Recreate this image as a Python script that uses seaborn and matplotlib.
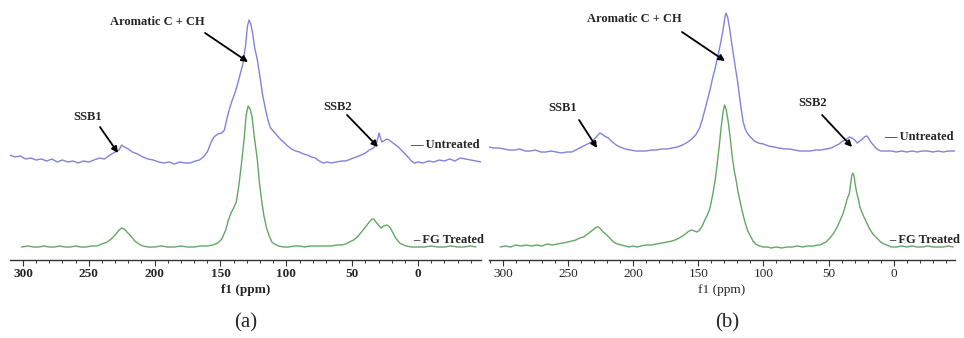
import numpy as np
import pandas as pd
import matplotlib
matplotlib.use("Agg")
import matplotlib.pyplot as plt
import seaborn as sns
from matplotlib.ticker import MultipleLocator

# ---------------- data (chemical shift in ppm, intensity in a.u.) ----------------
ua_ppm = [310, 306, 302, 298, 294, 290, 286, 282, 278, 274, 270, 266, 262, 258, 254, 250, 246, 242, 238, 234,
          230, 227, 225, 223, 220, 217, 213, 209, 205, 201, 197, 193, 189, 185, 181, 177, 173, 169, 166, 163,
          160, 157, 155, 152, 149, 147, 145, 143, 141, 139, 137, 135, 133, 131, 129.5, 128.3, 127, 125.5, 124, 122,
          120, 118, 116, 114, 112, 110, 108, 106, 104, 102, 99, 96, 93, 90, 87, 84, 81, 78, 75, 72,
          69, 66, 62, 58, 55, 51, 47, 43, 40, 37, 34, 32, 30.5, 29.6, 28.5, 27.5, 26, 24, 22, 20,
          18, 15, 12, 9, 7, 5, 3, 0, -4, -8, -12, -16, -20, -24, -28, -32, -36, -40, -44, -48]
ua_int = [105, 103, 104, 101, 102, 100, 101, 99, 101, 98, 100, 98, 99, 97, 99, 98, 100, 102, 101, 105,
          108, 110, 115, 113, 111, 108, 106, 103, 101, 100, 98, 97, 98, 96, 98, 97, 97, 99, 100, 103,
          108, 118, 123, 126, 127, 130, 142, 152, 160, 167, 176, 186, 196, 214, 234, 240, 236, 226, 212, 200,
          183, 165, 152, 140, 132, 129, 126, 123, 120, 118, 114, 111, 109, 108, 106, 105, 103, 102, 99, 97,
          98, 97, 98, 99, 99, 101, 103, 105, 107, 110, 112, 115, 122, 127, 122, 118, 119, 121, 120, 118,
          116, 113, 109, 105, 102, 99, 97, 98, 97, 99, 98, 100, 99, 101, 99, 102, 101, 100, 99, 98]

ga_ppm = [301, 296, 292, 288, 284, 280, 276, 272, 268, 264, 260, 256, 252, 248, 244, 240, 236, 233, 230, 227,
          225, 223, 221, 218, 215, 212, 209, 205, 200, 195, 190, 185, 180, 175, 170, 165, 160, 156, 152, 149,
          146, 144, 142, 140, 138, 136, 134, 132, 130.5, 129, 127.5, 126, 124.5, 123, 122, 120.5, 118.5, 117, 115, 113,
          111, 109, 106, 102, 98, 94, 90, 86, 82, 78, 74, 70, 66, 62, 58, 55, 52, 49, 46, 43,
          40, 37, 35, 33.5, 32, 30, 28, 26, 24, 22.5, 21, 19, 17, 14, 11, 9, 5, 0, -5, -10,
          -15, -20, -25, -30, -35, -40, -44]
ga_int = [13, 14, 13, 13, 14, 13, 13, 14, 13, 13, 14, 13, 13, 14, 14, 16, 18, 21, 25, 30,
          32, 31, 28, 24, 19, 16, 14, 13, 13, 14, 13, 13, 14, 13, 13, 14, 14, 15, 17, 21,
          30, 40, 47, 52, 58, 75, 97, 122, 145, 154, 151, 143, 125, 110, 100, 78, 57, 44, 32, 24,
          18, 16, 14, 13, 13, 14, 14, 13, 14, 14, 14, 14, 14, 15, 15, 16, 18, 20, 23, 28,
          33, 38, 41, 41, 38, 35, 32, 34, 35, 34, 32, 27, 22, 17, 15, 14, 13, 13, 13, 14,
          13, 13, 14, 13, 13, 14, 13]

ub_ppm = [311, 307, 303, 299, 295, 291, 287, 283, 279, 275, 271, 267, 263, 259, 255, 251, 247, 244, 241, 238,
          235, 232, 229, 227, 225.5, 224, 222, 219, 216, 213, 210, 206, 202, 198, 194, 190, 186, 182, 178, 174,
          170, 166, 162, 158, 155, 152, 149, 147, 145, 143, 141, 139, 137, 135, 133, 131, 129.5, 128.7, 127.5, 126,
          124.5, 123, 121.5, 120, 118.5, 117, 115.5, 114, 112, 110, 107, 104, 100, 96, 92, 88, 84, 80, 76, 72,
          68, 64, 60, 56, 52, 48, 45, 42, 39, 36, 34, 32, 30, 28, 26, 24, 22, 20.5, 19, 17,
          15, 13, 10, 6, 2, -2, -6, -10, -14, -18, -22, -26, -30, -34, -38, -42, -47]
ub_int = [113, 112, 112, 111, 110, 110, 111, 109, 109, 110, 108, 108, 109, 108, 107, 108, 108, 110, 112, 114,
          116, 118, 122, 125, 127, 126, 124, 122, 118, 115, 113, 111, 110, 109, 109, 109, 110, 110, 111, 111,
          112, 113, 115, 118, 121, 125, 132, 140, 150, 160, 170, 182, 192, 204, 216, 230, 243, 247, 243, 232,
          218, 205, 192, 180, 165, 150, 138, 131, 126, 123, 119, 117, 116, 114, 113, 112, 111, 111, 110, 109,
          109, 109, 110, 110, 111, 112, 114, 116, 119, 121, 123, 122, 120, 117, 119, 121, 123.5, 124, 121, 117,
          114, 111, 109, 109, 109, 108, 109, 108, 109, 108, 109, 109, 108, 109, 108, 109, 109]

gb_ppm = [302, 298, 294, 290, 286, 282, 278, 274, 270, 266, 262, 258, 254, 250, 247, 244, 241, 238, 235, 232,
          230, 228, 226.5, 225, 223, 221, 218, 215, 212, 209, 206, 203, 200, 197, 194, 190, 186, 182, 178, 174,
          170, 166, 162, 159, 157, 155, 153, 151, 149, 147, 145, 143, 141, 139, 137, 135.5, 134, 132.5, 131, 129.8,
          128.5, 127, 125.5, 124, 122.5, 121, 119.5, 118, 116.5, 115, 113.5, 112, 110, 108, 106, 103, 100, 97, 94, 90,
          86, 82, 78, 74, 70, 66, 62, 58, 56.6, 52, 49, 46, 43, 41, 39, 37.4, 36, 34, 32.3, 31.4,
          30.5, 29.5, 28.4, 27, 26, 24.5, 22.5, 20.7, 18.5, 16, 13, 10, 7.5, 5.4, 2, -2, -6, -10, -14, -18,
          -22, -26, -30, -34, -38, -42, -45.5]
gb_int = [13, 14, 13, 15, 14, 15, 14, 15, 14, 16, 15, 16, 17, 18, 19, 20, 22, 23, 26, 29,
          31, 33, 33, 31, 28, 26, 22, 18, 16, 15, 14, 13, 14, 13, 14, 15, 15, 16, 17, 18,
          19, 21, 24, 27, 29, 30, 29, 28, 30, 34, 40, 45, 52, 65, 80, 96, 113, 132, 148, 155,
          150, 138, 122, 104, 90, 80, 68, 59, 50, 42, 35, 29, 24, 19, 16, 14, 13, 13, 12, 13,
          12, 13, 13, 14, 13, 14, 14, 15, 15, 18, 22, 27, 34, 40, 46, 53, 60, 67, 84, 87,
          84, 75, 67, 60, 53, 48, 42, 37, 31, 26, 22, 18, 16, 15, 13, 13, 14, 13, 14, 13,
          13, 14, 13, 13, 13, 14, 13]

trace_labels = ["— Untreated", "– FG Treated"]
peak_labels = ["Aromatic C + CH", "SSB1", "SSB2"]
panel_labels = ["(a)", "(b)"]
major_ticks = [300, 250, 200, 150, 100, 50, 0]
axis_label = "f1 (ppm)"

# ---------------- styling ----------------
sns.set_theme(style="ticks")
plt.rcParams['font.family'] = ['Liberation Serif', 'DejaVu Serif']
plt.rcParams['axes.facecolor'] = 'white'

BLUE = '#8282dc'
GREEN = '#62a862'
W, H = 964, 338
fig = plt.figure(figsize=(W / 100, H / 100), dpi=100)


def add_ax(l, r, b, t):
    return fig.add_axes([l / W, 1 - b / H, (r - l) / W, (b - t) / H])


axa = add_ax(10, 481, 260, 5)
axb = add_ax(489, 955, 260, 5)

panels = [
    dict(ax=axa, u=(ua_ppm, ua_int), g=(ga_ppm, ga_int), xlim=(309.8, -47.8), bold=True,
         ann=[((198.2, 238), (161.7, 227), (129.1, 198)),
              ((251.0, 143), (241.5, 133), (227.8, 107)),
              ((61.1, 153), (53.9, 145), (30.4, 113))],
         tlab=[(6.1, 115), (3.8, 20)], plab=246),
    dict(ax=axb, u=(ub_ppm, ub_int), g=(gb_ppm, gb_int), xlim=(310.6, -47.0), bold=False,
         ann=[((199.3, 241), (162.5, 228), (129.5, 199)),
              ((253.8, 152), (241.5, 140), (227.7, 112)),
              ((61.9, 157), (55.0, 145), (32.0, 113))],
         tlab=[(7.4, 123), (3.6, 20)], plab=727),
]

for p, plab in zip(panels, panel_labels):
    ax = p['ax']
    du = pd.DataFrame({'ppm': p['u'][0], 'I': p['u'][1]})
    dg = pd.DataFrame({'ppm': p['g'][0], 'I': p['g'][1]})
    sns.lineplot(data=du, x='ppm', y='I', ax=ax, color=BLUE, lw=1.0, sort=False)
    sns.lineplot(data=dg, x='ppm', y='I', ax=ax, color=GREEN, lw=1.0, sort=False)
    ax.set_xlim(*p['xlim'])
    ax.set_ylim(0, 255)
    for s in ['top', 'left', 'right']:
        ax.spines[s].set_visible(False)
    ax.spines['bottom'].set_color('#333333')
    ax.spines['bottom'].set_linewidth(1.0)
    ax.set_yticks([])
    ax.set_ylabel('')
    ax.set_xticks(major_ticks)
    ax.xaxis.set_minor_locator(MultipleLocator(10))
    ax.tick_params(axis='x', which='major', direction='out', length=4, width=0.8,
                   color='#333333', labelsize=9.5, pad=2)
    ax.tick_params(axis='x', which='minor', direction='out', length=2.5, width=0.7, color='#333333')
    wt = 'bold' if p['bold'] else 'normal'
    for lab in ax.get_xticklabels():
        lab.set_fontweight(wt)
    ax.set_xlabel(axis_label, fontsize=9.5, fontweight=wt, labelpad=3)

    for (txt, tp, ap) in zip(peak_labels, [a[0] for a in p['ann']], p['ann']):
        ax.text(tp[0], tp[1], txt, fontsize=9, fontweight='bold', ha='center', va='center')
        ax.annotate('', xy=ap[2], xytext=ap[1],
                    arrowprops=dict(arrowstyle='-|>', color='black', lw=1.3, mutation_scale=9,
                                    shrinkA=0, shrinkB=0))
    for txt, pos in zip(trace_labels, p['tlab']):
        ax.text(pos[0], pos[1], txt, fontsize=9, fontweight='bold', ha='left', va='center')

    fig.text(p['plab'] / W, 1 - 323 / H, plab, fontsize=15, ha='center', va='center')

fig.savefig('out.png', dpi=100, facecolor='white')
